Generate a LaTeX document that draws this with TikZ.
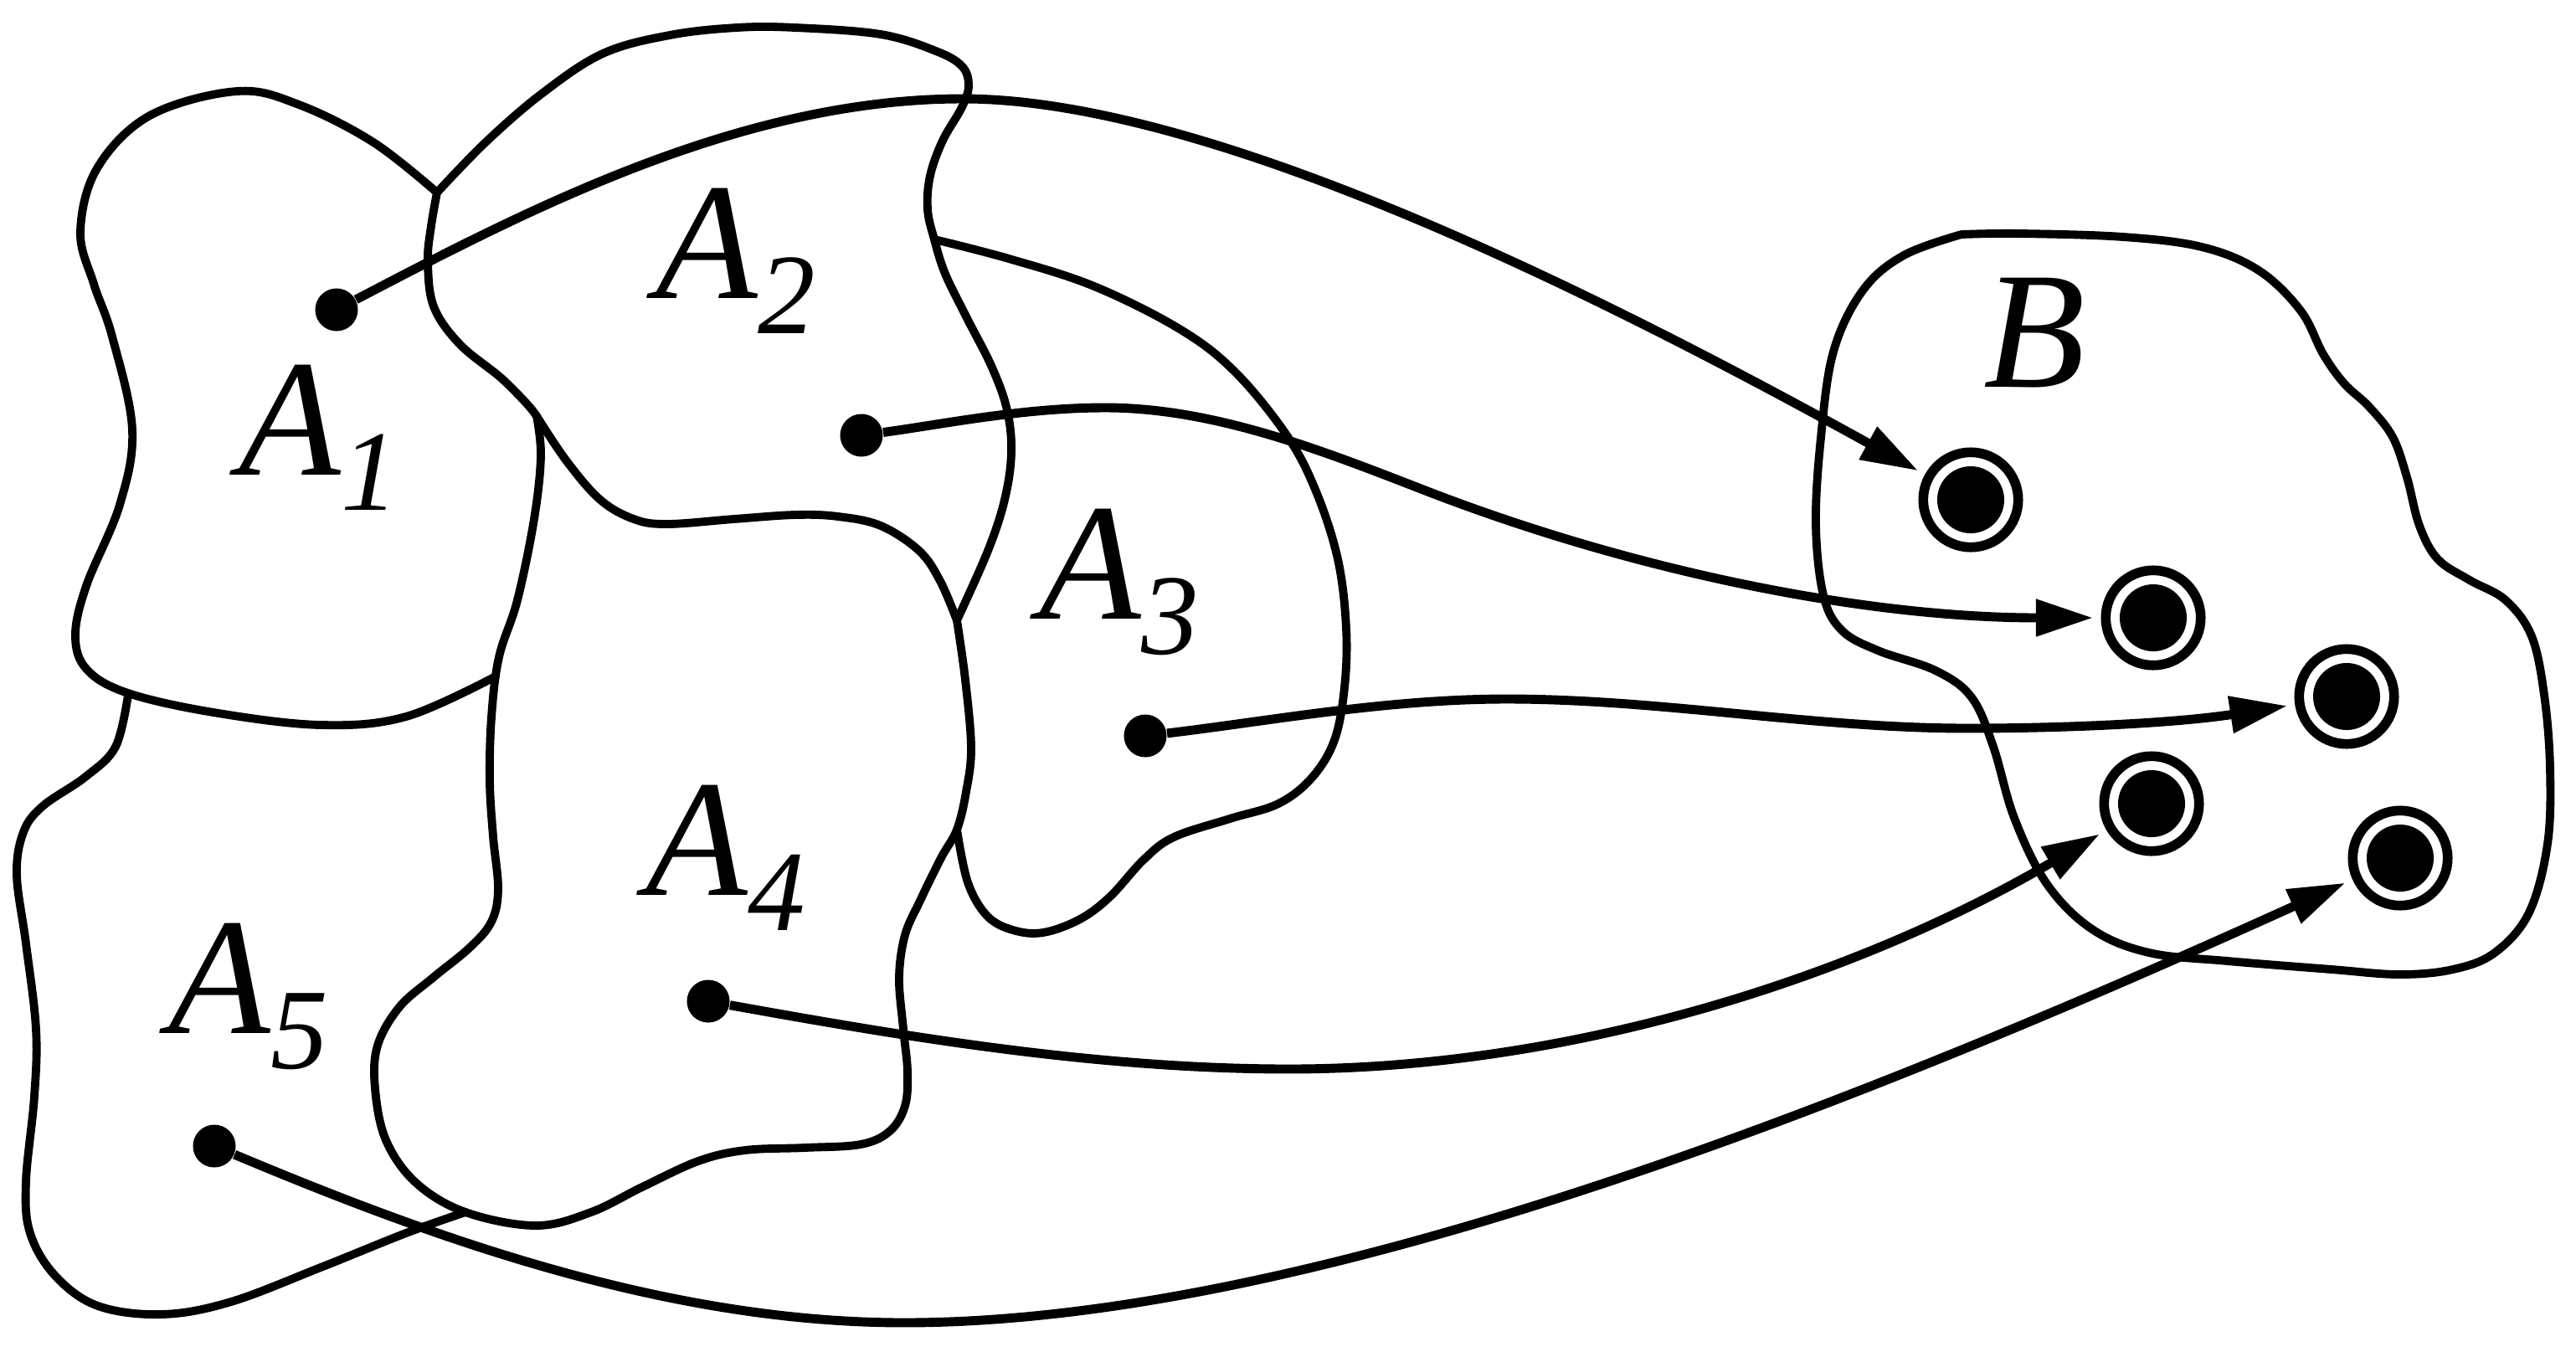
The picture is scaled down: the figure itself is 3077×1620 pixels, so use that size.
\documentclass[tikz,border=0pt]{standalone}
\usepackage{fontspec}
\setmainfont{Liberation Serif}
\usetikzlibrary{arrows.meta}
\newcommand\labsub[1]{\raisebox{-12pt}{\fontsize{39}{39}\selectfont #1}}
\begin{document}
\begin{tikzpicture}[x=0.01cm,y=-0.01cm,
  blob/.style={line width=2.8pt, line join=round, line cap=round},
  arr/.style={line width=3.1pt, -{Triangle[length=19.5pt,width=12pt]}, shorten >=2.6pt},
  dotnode/.style={circle, fill=black, minimum size=0.51cm, inner sep=0pt},
  ring/.style={circle, draw=black, line width=3.3pt, minimum size=1.134cm, inner sep=0pt,
    path picture={\fill[black] (path picture bounding box.center) circle (0.4cm);}},
  lab/.style={font=\fontsize{56.6}{60}\selectfont\itshape, inner sep=0pt, anchor=base west}]
\useasboundingbox (0,0) rectangle (3077,1620);

% ---- region outlines ----
% A1 outer
\draw[blob] plot[smooth, tension=0.6] coordinates {(522,230) (446,170) (357,125) (283,109) (179,138) (116,201) (96,277) (112,339) (134,402) (158,513) (143,603) (103,700) (90,760) (104,800) (153,828) (255,851) (383,866) (485,856) (592,808)};
% A1 / A2 border
\draw[blob] plot[smooth, tension=0.6] coordinates {(522,230) (515,270) (511,312) (518,366) (549,411) (598,451) (629,482) (641,497)};
% A4 left, bottom, right, up to A2
\draw[blob] plot[smooth, tension=0.6] coordinates {(641,497) (646,545) (638,620) (618,717) (596,785) (587,857) (585,933) (589,999) (595,1062) (587,1101) (561,1132) (517,1168) (477,1203) (451,1249) (448,1300) (461,1362) (497,1413) (556,1448) (640,1464) (706,1448) (767,1418) (834,1387) (890,1374) (961,1371) (1028,1367) (1063,1351) (1081,1321) (1084,1280) (1079,1229) (1074,1168) (1081,1117) (1099,1076) (1124,1025) (1143,991) (1154,946) (1160,893) (1153,812) (1143,741)};
% A2 bottom
\draw[blob] plot[smooth, tension=0.6] coordinates {(641,497) (677,551) (717,597) (757,620) (797,626) (877,620) (950,615) (1001,617) (1052,628) (1098,658) (1123,694) (1143,741)};
% A2 right and top
\draw[blob] plot[smooth, tension=0.6] coordinates {(1143,741) (1180,658) (1200,597) (1208,541) (1203,490) (1185,439) (1154,378) (1129,327) (1116,286) (1108,250) (1111,210) (1126,168) (1149,128) (1157,102) (1149,79) (1118,61) (1052,41) (950,33) (880,33) (800,42) (720,64) (647,112) (580,170) (522,230)};
% A3
\draw[blob] plot[smooth, tension=0.6] coordinates {(1116,286) (1205,309) (1307,342) (1409,393) (1475,444) (1537,520) (1572,587) (1598,668) (1608,750) (1606,821) (1594,884) (1567,929) (1527,960) (1469,978) (1402,1000) (1366,1027) (1326,1071) (1290,1098) (1246,1114) (1210,1111) (1179,1094) (1156,1054) (1143,991)};
% A5
\draw[blob] plot[smooth, tension=0.6] coordinates {(153,830) (138,892) (102,928) (51,963) (28,994) (20,1045) (31,1127) (43,1229) (41,1310) (31,1412) (36,1473) (66,1524) (117,1560) (194,1570) (276,1555) (383,1514) (485,1473) (556,1448)};
% B
\draw[blob] plot[smooth, tension=0.6] coordinates {(2343,280) (2412,279) (2536,283) (2630,295) (2698,323) (2748,371) (2775,423) (2800,458) (2830,486) (2858,522) (2875,570) (2890,628) (2912,668) (2950,693) (2993,717) (3024,760) (3039,830) (3046,917) (3043,1008) (3021,1090) (2980,1138) (2930,1158) (2866,1164) (2785,1158) (2661,1148) (2567,1138) (2499,1110) (2445,1056) (2406,977) (2381,892) (2355,833) (2312,801) (2243,777) (2200,753) (2178,711) (2169,626) (2175,523) (2190,420) (2225,347) (2274,305) (2343,280)};

% ---- labels ----
\node[lab] (la1) at (285,567) {A\labsub{1}};
\node[lab] (la2) at (783,356) {A\labsub{2}};
\node[lab] (la3) at (1241,739) {A\labsub{3}};
\node[lab] (la4) at (771,1069) {A\labsub{4}};
\node[lab] (la5) at (201,1234) {A\labsub{5}};
\node[lab] (lb) at (2369,462) {B};

% ---- points ----
\node[dotnode] (d1) at (402,370) {};
\node[dotnode] (d2) at (1029,520) {};
\node[dotnode] (d3) at (1368,879) {};
\node[dotnode] (d4) at (846,1196) {};
\node[dotnode] (d5) at (256,1369) {};

\node[ring] (r1) at (2354,597) {};
\node[ring] (r2) at (2572,738) {};
\node[ring] (r3) at (2803,832) {};
\node[ring] (r4) at (2570,960) {};
\node[ring] (r5) at (2867,1025) {};

% ---- mappings ----
\draw[arr] (d1) .. controls (635,248) and (887,118) .. (1150,118) .. controls (1450,118) and (1925,360) .. (r1);
\draw[arr] (d2) .. controls (1125,507) and (1222,487) .. (1320,487) .. controls (1450,487) and (1579,538) .. (1700,585) .. controls (1952,683) and (2229,738) .. (r2);
\draw[arr] (d3) .. controls (1512,862) and (1655,835) .. (1800,835) .. controls (1984,835) and (2166,870) .. (2350,870) .. controls (2478,870) and (2605,863) .. (r3);
\draw[arr] (d4) .. controls (1074,1237) and (1307,1277) .. (1540,1277) .. controls (1874,1277) and (2216,1168) .. (r4);
\draw[arr] (d5) .. controls (518,1479) and (797,1580) .. (1080,1580) .. controls (1580,1580) and (2255,1302) .. (r5);
\end{tikzpicture}
\end{document}
